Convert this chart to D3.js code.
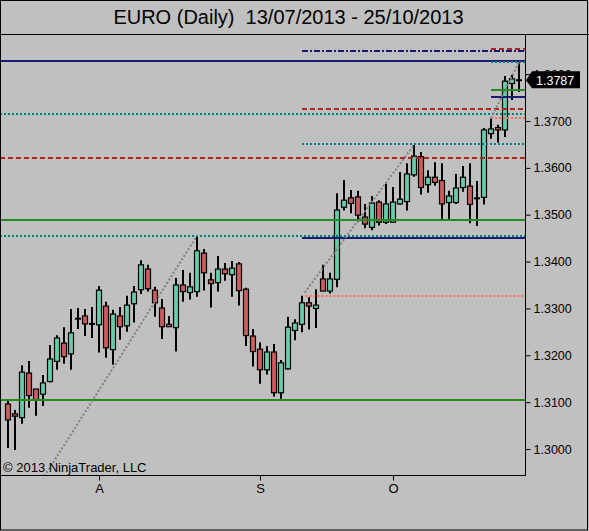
<!DOCTYPE html>
<html><head><meta charset="utf-8">
<script src="https://cdn.jsdelivr.net/npm/d3@7"></script>
<style>html,body{margin:0;padding:0;background:#c0c0c0;} svg{display:block;}</style>
</head><body>
<script>
// ---- data ----
const titleText = "EURO (Daily)  13/07/2013 - 25/10/2013";
const copyrightText = "\u00A9 2013 NinjaTrader, LLC";
const opens  = [1.3096,1.3075,1.3067,1.3162,1.3128,1.3117,1.3144,1.3187,1.3226,1.3203,
                1.3278,1.3284,1.3267,1.3265,1.3305,1.3212,1.3284,1.3263,1.3310,1.3340,
                1.3384,1.3339,1.3301,1.3266,1.3259,1.3350,1.3334,1.3336,1.3418,1.3361,
                1.3355,1.3384,1.3372,1.3395,1.3341,1.3241,1.3213,1.3169,1.3207,1.3120,
                1.3171,1.3253,1.3266,1.3312,1.3300,1.3363,1.3337,1.3362,1.3516,1.3536,
                1.3538,1.3495,1.3473,1.3527,1.3484,1.3484,1.3523,1.3528,1.3585,1.3624,
                1.3564,1.3580,1.3573,1.3526,1.3526,1.3558,1.3561,1.3535,1.3537,1.3673,
                1.3686,1.3681,1.3780,1.3787];
const highs  = [1.3103,1.3083,1.3179,1.3188,1.3128,1.3158,1.3222,1.3243,1.3260,1.3299,
                1.3301,1.3299,1.3303,1.3348,1.3314,1.3297,1.3303,1.3327,1.3348,1.3403,
                1.3393,1.3346,1.3320,1.3284,1.3365,1.3382,1.3376,1.3455,1.3427,1.3376,
                1.3412,1.3397,1.3401,1.3399,1.3344,1.3256,1.3228,1.3220,1.3224,1.3190,
                1.3282,1.3277,1.3327,1.3324,1.3341,1.3393,1.3376,1.3546,1.3574,1.3553,
                1.3551,1.3523,1.3540,1.3531,1.3566,1.3559,1.3591,1.3610,1.3649,1.3634,
                1.3595,1.3612,1.3610,1.3551,1.3587,1.3604,1.3610,1.3572,1.3685,1.3705,
                1.3692,1.3796,1.3798,1.3826];
const lows   = [1.3002,1.2998,1.3054,1.3088,1.3071,1.3092,1.3142,1.3169,1.3182,1.3169,
                1.3256,1.3241,1.3237,1.3206,1.3195,1.3180,1.3233,1.3250,1.3270,1.3331,
                1.3336,1.3282,1.3235,1.3261,1.3208,1.3314,1.3319,1.3325,1.3338,1.3302,
                1.3336,1.3359,1.3325,1.3306,1.3220,1.3176,1.3139,1.3159,1.3112,1.3107,
                1.3169,1.3232,1.3249,1.3255,1.3258,1.3337,1.3332,1.3345,1.3509,1.3503,
                1.3484,1.3471,1.3467,1.3477,1.3480,1.3483,1.3521,1.3509,1.3581,1.3543,
                1.3547,1.3562,1.3491,1.3491,1.3523,1.3549,1.3482,1.3476,1.3522,1.3662,
                1.3654,1.3666,1.3745,1.3762];
const closes = [1.3062,1.3070,1.3164,1.3114,1.3105,1.3141,1.3192,1.3237,1.3197,1.3248,
                1.3278,1.3267,1.3267,1.3339,1.3216,1.3288,1.3261,1.3307,1.3335,1.3393,
                1.3342,1.3312,1.3261,1.3261,1.3350,1.3336,1.3346,1.3423,1.3376,1.3353,
                1.3384,1.3374,1.3386,1.3338,1.3242,1.3208,1.3169,1.3207,1.3120,1.3184,
                1.3260,1.3269,1.3312,1.3305,1.3307,1.3337,1.3363,1.3510,1.3531,1.3524,
                1.3499,1.3480,1.3525,1.3484,1.3523,1.3527,1.3533,1.3587,1.3625,1.3558,
                1.3580,1.3569,1.3523,1.3540,1.3557,1.3580,1.3522,1.3535,1.3681,1.3683,
                1.3681,1.3785,1.3790,1.3787];
const xTickIndex  = [13, 36, 55];
const xTickLabels = ["A", "S", "O"];
const yTickValues = [1.30,1.31,1.32,1.33,1.34,1.35,1.36,1.37,1.38];
const lastPrice = 1.3787;
// horizontal levels: price, first bar (null = whole chart), style
const levelPrices = [1.3829,1.3850,1.3854,1.3826,1.3767,1.3752,1.3726,1.3716,1.3707,1.3651,1.3620,1.3489,1.3455,1.3451,1.3327,1.3105];
const levelStarts = [null, 42, 69, 69, 69, 69, 42, null, 69, 42, null, null, null, 42, 42.5, null];
const levelStyles = ["navy","navyDashDot","red","teal","green","navy","red","teal","salmon","teal","red","green","teal","navy","salmon","green"];
// gray dotted trend lines
const trendStartIdx   = [5.2, 42.4, 69];
const trendStartPrice = [1.2942, 1.3334, 1.3706];
const trendEndIdx     = [27, 58, 73];
const trendEndPrice   = [1.3455, 1.3649, 1.3826];

// ---- drawing ----
const W = 589, H = 531;
const plot = {left: 0, right: 525, top: 34, bottom: 475};
const styles = {
  navy:        {color: "#1a1a72", dash: null,      width: 2},
  navyDashDot: {color: "#1a1a72", dash: "6,2,2,2", width: 2},
  red:         {color: "#b22222", dash: "5,3",     width: 2},
  teal:        {color: "#008080", dash: "2,2",     width: 2},
  green:       {color: "#228b22", dash: null,      width: 2},
  salmon:      {color: "#ff6f55", dash: "2,2",     width: 2}
};

const svg = d3.select("body").append("svg").attr("width", W).attr("height", H)
  .style("font-family", "'Liberation Sans', Arial, sans-serif");
svg.append("rect").attr("width", W).attr("height", H).attr("fill", "#c0c0c0");

const idx = d3.range(opens.length);
const x = d3.scaleLinear().domain([0, opens.length - 1]).range([8, 519]);
const y = d3.scaleLinear().domain([1.30, 1.37]).range([449, 121]);

svg.append("defs").append("clipPath").attr("id", "clip").append("rect")
  .attr("x", plot.left).attr("y", plot.top).attr("width", plot.right - plot.left).attr("height", plot.bottom - plot.top);

// title
svg.append("text").attr("x", 288.5).attr("y", 24).attr("text-anchor", "middle")
  .style("white-space", "pre").attr("font-size", 20).attr("fill", "#000").text(titleText);

const g = svg.append("g").attr("clip-path", "url(#clip)");

// candles
const candles = g.append("g");
idx.forEach(i => {
  const cx = Math.round(x(i));
  candles.append("line").attr("x1", cx).attr("x2", cx)
    .attr("y1", y(highs[i])).attr("y2", y(lows[i]))
    .attr("stroke", "#000").attr("stroke-width", 2);
  const o = opens[i], c = closes[i];
  if (Math.abs(o - c) < 0.00005) {
    candles.append("line").attr("x1", cx - 3).attr("x2", cx + 3)
      .attr("y1", y(o)).attr("y2", y(o)).attr("stroke", "#000").attr("stroke-width", 2);
  } else {
    const top = y(Math.max(o, c)), bot = y(Math.min(o, c));
    candles.append("rect").attr("x", cx - 2.5).attr("y", top)
      .attr("width", 5).attr("height", Math.max(bot - top, 1.5))
      .attr("fill", c > o ? "#66cdaa" : "#cd5c5c")
      .attr("stroke", "#000").attr("stroke-width", 1.2);
  }
});

// level lines
levelPrices.forEach((p, k) => {
  const s = styles[levelStyles[k]];
  const x0 = levelStarts[k] === null ? plot.left : x(levelStarts[k]);
  const ln = g.append("line").attr("x1", x0).attr("x2", plot.right)
    .attr("y1", Math.round(y(p))).attr("y2", Math.round(y(p)))
    .attr("stroke", s.color).attr("stroke-width", s.width);
  if (s.dash) ln.attr("stroke-dasharray", s.dash);
});

// trend lines
trendStartIdx.forEach((si, k) => {
  g.append("line")
    .attr("x1", x(si)).attr("y1", y(trendStartPrice[k]))
    .attr("x2", x(trendEndIdx[k])).attr("y2", y(trendEndPrice[k]))
    .attr("stroke", "#808080").attr("stroke-width", 2).attr("stroke-dasharray", "2,2");
});

// copyright
svg.append("text").attr("x", 3).attr("y", 472).attr("font-size", 13).attr("fill", "#000").text(copyrightText);

// plot frame
svg.append("line").attr("x1", 0).attr("x2", W).attr("y1", 34.5).attr("y2", 34.5).attr("stroke", "#000");
svg.append("line").attr("x1", plot.right + 0.5).attr("x2", plot.right + 0.5).attr("y1", 34).attr("y2", plot.bottom + 0.5).attr("stroke", "#000");
svg.append("line").attr("x1", 0).attr("x2", plot.right + 1).attr("y1", plot.bottom + 0.5).attr("y2", plot.bottom + 0.5).attr("stroke", "#000");
svg.append("rect").attr("x", 0.5).attr("y", 0.5).attr("width", W - 2).attr("height", H - 1.5)
  .attr("fill", "none").attr("stroke", "#000");

// y axis (right)
const yAxis = d3.axisRight(y).tickValues(yTickValues).tickFormat(d3.format(".4f")).tickSize(5).tickPadding(3);
const ya = svg.append("g").attr("transform", `translate(${plot.right + 0.5},0)`).call(yAxis);
ya.select(".domain").remove();
ya.selectAll("text").attr("font-size", 12.5).attr("fill", "#000").attr("font-family", "'Liberation Sans', Arial, sans-serif");
ya.selectAll("line").attr("stroke", "#000");

// x axis (bottom)
const xa = svg.append("g").attr("transform", `translate(0,${plot.bottom + 0.5})`)
  .call(d3.axisBottom(x).tickValues(xTickIndex).tickFormat((d, k) => xTickLabels[k]).tickSize(5).tickPadding(3));
xa.select(".domain").remove();
xa.selectAll("text").attr("font-size", 13).attr("fill", "#000").attr("font-family", "'Liberation Sans', Arial, sans-serif");
xa.selectAll("line").attr("stroke", "#000");

// last price marker
const ly = y(lastPrice);
svg.append("path")
  .attr("d", `M${plot.right + 1},${ly} L${plot.right + 7},${ly - 9} L${plot.right + 55},${ly - 9} L${plot.right + 55},${ly + 8} L${plot.right + 7},${ly + 8} Z`)
  .attr("fill", "#000");
svg.append("text").attr("x", plot.right + 11).attr("y", ly).attr("dy", "0.35em")
  .attr("font-size", 12.5).attr("fill", "#fff").text(d3.format(".4f")(lastPrice));
</script>
</body></html>
